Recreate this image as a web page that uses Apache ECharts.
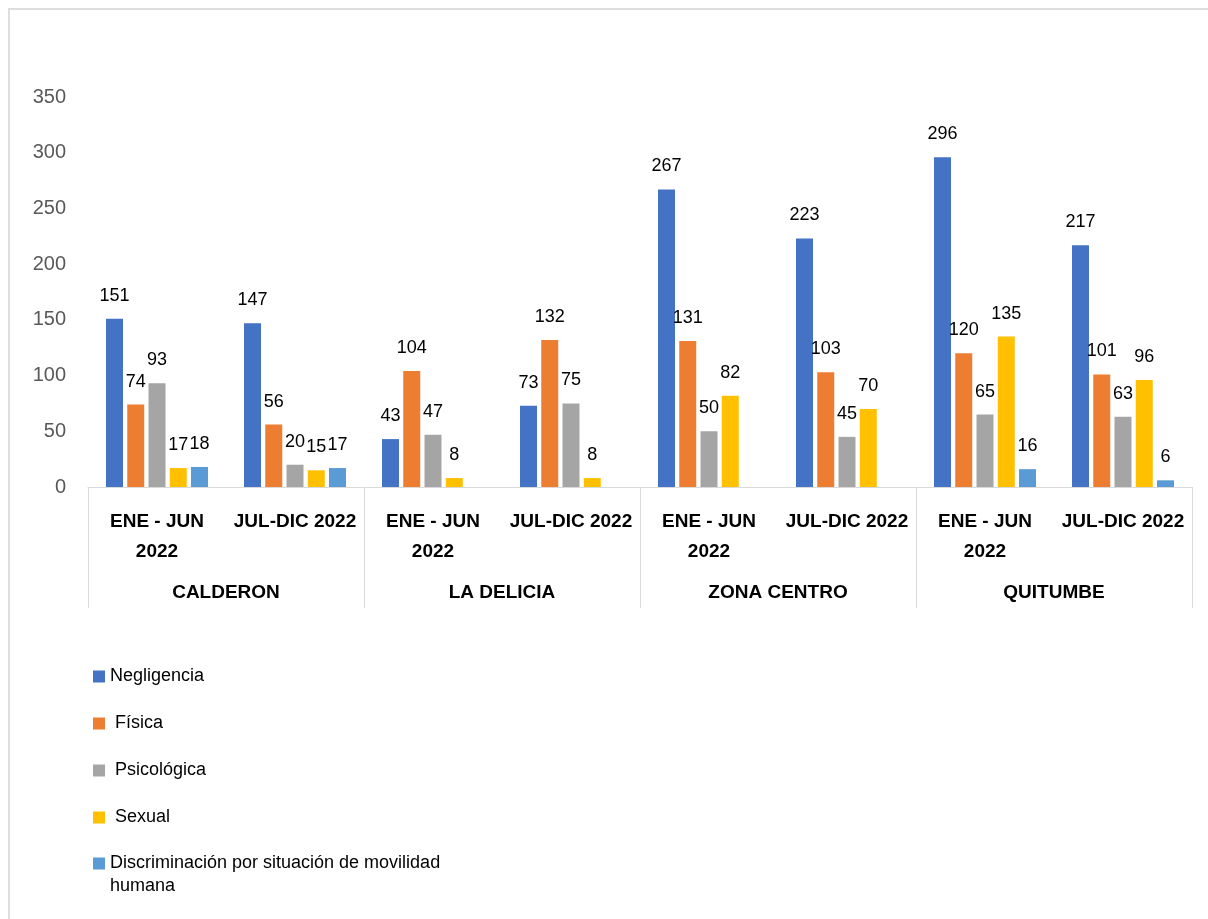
<!DOCTYPE html>
<html>
<head>
<meta charset="utf-8">
<script src="https://cdn.jsdelivr.net/npm/echarts@6/dist/echarts.min.js"></script>
<style>
  html, body { margin: 0; padding: 0; background: #fff; }
  #main { width: 1208px; height: 919px; }
  #frame { position: absolute; left: 8px; top: 8px; width: 1300px; height: 1000px;
           border-top: 2px solid #dedede; border-left: 2px solid #dedede; pointer-events: none; }
</style>
</head>
<body>
<div id="main"></div>
<div id="frame"></div>
<script>
// periodos y zonas
var periods = ['ENE - JUN 2022', 'JUL-DIC 2022', 'ENE - JUN 2022', 'JUL-DIC 2022',
               'ENE - JUN 2022', 'JUL-DIC 2022', 'ENE - JUN 2022', 'JUL-DIC 2022'];
var zones = ['CALDERON', 'LA DELICIA', 'ZONA CENTRO', 'QUITUMBE'];
var yTicks = { min: 0, max: 350, interval: 50 };

// valores por tipo de violencia
var negligencia = [151, 147, 43, 73, 267, 223, 296, 217];
var fisica = [74, 56, 104, 132, 131, 103, 120, 101];
var psicologica = [93, 20, 47, 75, 50, 45, 65, 63];
var sexual = [17, 15, 8, 8, 82, 70, 135, 96];
var discriminacion = [18, 17, null, null, null, null, 16, 6];

var seriesNames = ['Negligencia', ' Física', ' Psicológica', ' Sexual',
                   'Discriminación por situación de movilidad humana'];
var seriesData = [negligencia, fisica, psicologica, sexual, discriminacion];
var colors = ['#4472C4', '#ED7D31', '#A5A5A5', '#FFC000', '#5B9BD5'];

var FONT = '"Liberation Sans", Arial, sans-serif';

var myChart = echarts.init(document.getElementById('main'));

var legendText = { fontSize: 18, color: '#000', lineHeight: 23, fontFamily: FONT };

var option = {
    animation: false,
    color: colors,
    textStyle: { fontFamily: FONT },
    grid: { left: 88, right: 16, top: 97, bottom: 432, containLabel: false },
    legend: [{
        orient: 'vertical',
        left: 88,
        top: 660,
        icon: 'rect',
        itemWidth: 12,
        itemHeight: 12,
        itemGap: 24,
        itemTextGap: 11,
        data: seriesNames.slice(0, 4),
        textStyle: legendText
    }, {
        // ultimo elemento en dos lineas: el cuadro queda a la altura de la primera linea
        orient: 'vertical',
        left: 88,
        top: 847,
        icon: 'path://M0,0H12V12H0Z M0,35L0.01,35',
        itemWidth: 12,
        itemHeight: 35,
        itemTextGap: 11,
        data: seriesNames.slice(4),
        textStyle: legendText,
        formatter: function (name) {
            return name.replace(' humana', '\nhumana');
        }
    }],
    xAxis: [{
        type: 'category',
        data: periods,
        axisLine: { lineStyle: { color: '#d9d9d9', width: 1 } },
        axisTick: { show: false },
        axisLabel: {
            interval: 0,
            margin: 20,
            fontSize: 19,
            fontWeight: 'bold',
            color: '#000',
            lineHeight: 30,
            fontFamily: FONT,
            formatter: function (v) { return v.replace('JUN ', 'JUN\n'); }
        }
    }, {
        type: 'category',
        data: zones,
        position: 'bottom',
        axisLine: { show: false },
        axisTick: { show: true, length: 121, lineStyle: { color: '#d9d9d9', width: 1 } },
        axisLabel: {
            interval: 0,
            margin: 96,
            fontSize: 19,
            fontWeight: 'bold',
            color: '#000',
            fontFamily: FONT
        }
    }],
    yAxis: {
        type: 'value',
        min: yTicks.min,
        max: yTicks.max,
        interval: yTicks.interval,
        splitLine: { show: false },
        axisLine: { show: false },
        axisTick: { show: false },
        axisLabel: { fontSize: 20, color: '#595959', margin: 22, fontFamily: FONT }
    },
    series: seriesNames.map(function (name, i) {
        return {
            name: name,
            type: 'bar',
            xAxisIndex: 0,
            data: seriesData[i],
            barWidth: 17,
            barGap: '25%',
            label: {
                show: true,
                position: 'top',
                distance: 14,
                fontSize: 18,
                color: '#000',
                fontFamily: FONT
            }
        };
    })
};

myChart.setOption(option);
</script>
</body>
</html>
